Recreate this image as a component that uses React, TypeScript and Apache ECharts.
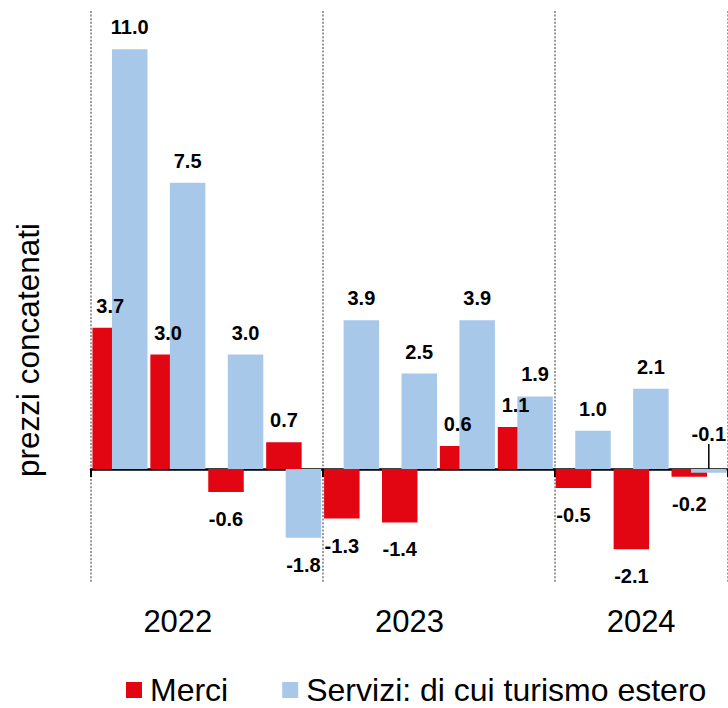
import React, { useEffect, useRef } from "react";
import * as echarts from "echarts";

// ---- data ----
const quarters = [
  "2022 T1", "2022 T2", "2022 T3", "2022 T4",
  "2023 T1", "2023 T2", "2023 T3", "2023 T4",
  "2024 T1", "2024 T2", "2024 T3",
];
const yearTickLabels = ["", "2022", "", "", "", "2023", "", "", "", "2024", ""];
const groupStartIndexes = [0, 4, 8];
const merci = [3.7, 3.0, -0.6, 0.7, -1.3, -1.4, 0.6, 1.1, -0.5, -2.1, -0.2];
const servizi = [11.0, 7.5, 3.0, -1.8, 3.9, 2.5, 3.9, 1.9, 1.0, 2.1, -0.1];
const seriesNames = ["Merci", "Servizi: di cui turismo estero"];
const yTitle = "prezzi concatenati";
const yMin = -3;
const yMax = 12;
const serviziCalloutIndex = 10;

const RED = "#E20613";
const BLUE = "#A7C8E9";
const FONT = '"Liberation Sans", Arial, Helvetica, sans-serif';

function makeItems(values: number[], calloutIndex: number | null) {
  return values.map((v, i) => {
    if (i === calloutIndex) {
      return {
        value: v,
        label: { position: "top", distance: 24 },
        labelLine: { show: true, lineStyle: { color: "#000", width: 1.5 } },
      };
    }
    return {
      value: v,
      label: { position: v >= 0 ? "top" : "bottom", distance: v >= 0 ? 12 : 17 },
    };
  });
}

const isGroupStart = (idx: number) => groupStartIndexes.indexOf(idx) >= 0;

export default function App() {
  const ref = useRef<HTMLDivElement>(null);

  useEffect(() => {
    if (!ref.current) return;
    const chart = echarts.init(ref.current, null, { renderer: "svg" });

    const labelCfg = {
      show: true,
      formatter: (p: any) => Number(p.value).toFixed(1),
      fontSize: 20,
      fontWeight: "bold",
      color: "#000",
      fontFamily: FONT,
    };

    chart.setOption({
      animation: false,
      backgroundColor: "#ffffff",
      textStyle: { fontFamily: FONT },
      grid: {
        left: 91,
        right: 0,
        top: 11,
        bottom: 124.5,
        containLabel: false,
        outerBoundsMode: "none",
      },
      legend: {
        data: seriesNames,
        left: 126,
        top: 674,
        padding: 0,
        icon: "rect",
        itemWidth: 16,
        itemHeight: 16,
        itemGap: 54,
        textStyle: {
          fontSize: 32,
          color: "#000",
          fontFamily: FONT,
          padding: [0, 0, 0, 3],
        },
      },
      xAxis: [
        {
          type: "category",
          data: quarters,
          position: "bottom",
          axisLine: { show: true, onZero: true, lineStyle: { color: "#000", width: 2.5 } },
          axisTick: {
            show: true,
            interval: (idx: number) => isGroupStart(idx),
            length: 8,
            lineStyle: { color: "#000", width: 2 },
          },
          axisLabel: { show: false },
          splitLine: {
            show: true,
            interval: (idx: number) => isGroupStart(idx),
            lineStyle: { color: "#9a9a9a", width: 2, type: [2, 1.6] },
          },
        },
        {
          type: "category",
          data: quarters,
          position: "bottom",
          axisLine: { show: false, onZero: false },
          axisTick: { show: false },
          splitLine: { show: false },
          axisLabel: {
            show: true,
            interval: 0,
            formatter: (_v: string, idx: number) => yearTickLabels[idx],
            fontSize: 31,
            color: "#000",
            margin: 22,
            fontFamily: FONT,
          },
        },
      ],
      yAxis: {
        type: "value",
        min: yMin,
        max: yMax,
        show: false,
      },
      graphic: [
        {
          type: "text",
          x: 28,
          y: 350,
          rotation: Math.PI / 2,
          style: {
            text: yTitle,
            fontSize: 31.5,
            fontFamily: FONT,
            fill: "#000",
            align: "center",
            verticalAlign: "middle",
            textAlign: "center",
            textVerticalAlign: "middle",
          },
        },
      ],
      series: [
        {
          name: seriesNames[0],
          type: "bar",
          xAxisIndex: 0,
          yAxisIndex: 0,
          data: makeItems(merci, null),
          barWidth: 35.5,
          barGap: "-45%",
          itemStyle: { color: RED },
          label: labelCfg,
        },
        {
          name: seriesNames[1],
          type: "bar",
          xAxisIndex: 0,
          yAxisIndex: 0,
          data: makeItems(servizi, serviziCalloutIndex),
          barWidth: 35.5,
          barGap: "-45%",
          itemStyle: { color: BLUE },
          label: labelCfg,
          labelLayout: (params: any) =>
            params.dataIndex === serviziCalloutIndex ? { dy: -1 } : {},
        },
      ],
    });

    return () => {
      chart.dispose();
    };
  }, []);

  return (
    <div
      ref={ref}
      style={{ position: "fixed", left: 0, top: 0, width: 728, height: 708, background: "#fff" }}
    />
  );
}
